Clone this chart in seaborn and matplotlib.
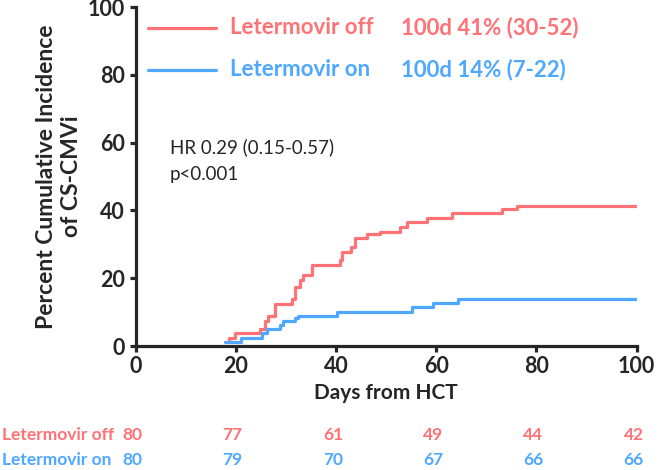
import numpy as np
import matplotlib
matplotlib.use('Agg')
import matplotlib.pyplot as plt
import matplotlib.transforms as mtransforms
import pandas as pd
import seaborn as sns

# =========================
# DATA
# =========================
groups = ['Letermovir off', 'Letermovir on']
colors = {'Letermovir off': '#FF7276', 'Letermovir on': '#4FA8FF'}

off_days = [18.0, 18.6, 19.9, 24.8, 25.8, 26.5, 27.8, 31.2, 31.8, 32.8, 33.5,
            35.2, 40.8, 41.2, 43.1, 43.8, 46.1, 48.8, 52.8, 54.1, 58.1, 63.1,
            73.1, 76.1, 100.0]
off_pct = [1.25, 2.5, 3.75, 5.0, 7.5, 8.75, 12.5, 13.75, 17.5, 19.5, 21.0,
           23.75, 25.4, 27.8, 29.2, 31.8, 33.0, 33.7, 35.2, 36.7, 37.7, 39.2,
           40.4, 41.2, 41.2]

on_days = [17.9, 21.0, 25.2, 26.2, 28.8, 29.5, 31.8, 32.5, 40.2, 55.1, 59.4,
           64.4, 100.0]
on_pct = [1.25, 2.5, 3.75, 5.0, 6.25, 7.5, 8.25, 8.75, 10.0, 11.4, 12.6,
          13.75, 13.75]

legend_values = ['100d 41% (30-52)', '100d 14% (7-22)']
hr_text = 'HR 0.29 (0.15-0.57)\np<0.001'

risk_days = [0, 20, 40, 60, 80, 100]
risk_off = [80, 77, 61, 49, 44, 42]
risk_on = [80, 79, 70, 67, 66, 66]

df = pd.concat([
    pd.DataFrame({'day': off_days, 'pct': off_pct, 'group': groups[0]}),
    pd.DataFrame({'day': on_days, 'pct': on_pct, 'group': groups[1]}),
])

# =========================
# PLOTTING SETUP
# =========================
sns.set_style('ticks')
plt.rcParams['font.family'] = ['Lato', 'DejaVu Sans']

fig = plt.figure(figsize=(6.57, 4.70), dpi=100)
ax = fig.add_axes([0.2063, 0.2638, 0.7626, 0.7213])

sns.lineplot(data=df, x='day', y='pct', hue='group', palette=colors,
             drawstyle='steps-post', linewidth=2.3, legend=False,
             solid_capstyle='round', estimator=None, ax=ax, zorder=3)

ax.set_xlim(0, 100)
ax.set_ylim(0, 100)
ax.set_xticks(risk_days)
ax.set_yticks([0, 20, 40, 60, 80, 100])
sns.despine(ax=ax)
for side in ['left', 'bottom']:
    ax.spines[side].set_linewidth(2.3)
ax.tick_params(width=2.3, length=4.5, labelsize=15.5, pad=3)
for lab in ax.get_xticklabels() + ax.get_yticklabels():
    lab.set_fontweight('bold')

ax.set_xlabel('Days from HCT', fontsize=15, fontweight='bold', labelpad=4)
ax.set_ylabel('Percent Cumulative Incidence\nof CS-CMVi', fontsize=16.5,
              fontweight='bold', labelpad=4, linespacing=1.25)

# legend drawn by hand (lines + two text columns)
fig_tr = fig.transFigure
for i, g in enumerate(groups):
    y = 1 - (28 + 42 * i) / 470
    fig.add_artist(plt.Line2D([148 / 657, 216 / 657], [y, y], color=colors[g],
                              linewidth=2.3, solid_capstyle='round'))
    fig.text(230 / 657, y, g, color=colors[g], fontsize=16,
             fontweight='bold', va='center')
    fig.text(401 / 657, y, legend_values[i], color=colors[g], fontsize=16,
             fontweight='bold', va='center')

ax.text(170 / 657, 1 - 161 / 470, hr_text, transform=fig_tr, fontsize=13.5,
        va='center', linespacing=1.7)

# number-at-risk table
blend = mtransforms.blended_transform_factory(ax.transData, fig_tr)
for row, (g, counts) in enumerate(zip(groups, [risk_off, risk_on])):
    y = 1 - (435 + 25 * row) / 470
    fig.text(2 / 657, y, g, color=colors[g], fontsize=12.5,
             fontweight='bold', va='center')
    for d, n in zip(risk_days, counts):
        ax.text(d - 0.6, y, str(n), transform=blend, color=colors[g],
                fontsize=12.5, fontweight='bold', va='center', ha='center')

fig.savefig('out.png', dpi=100)
